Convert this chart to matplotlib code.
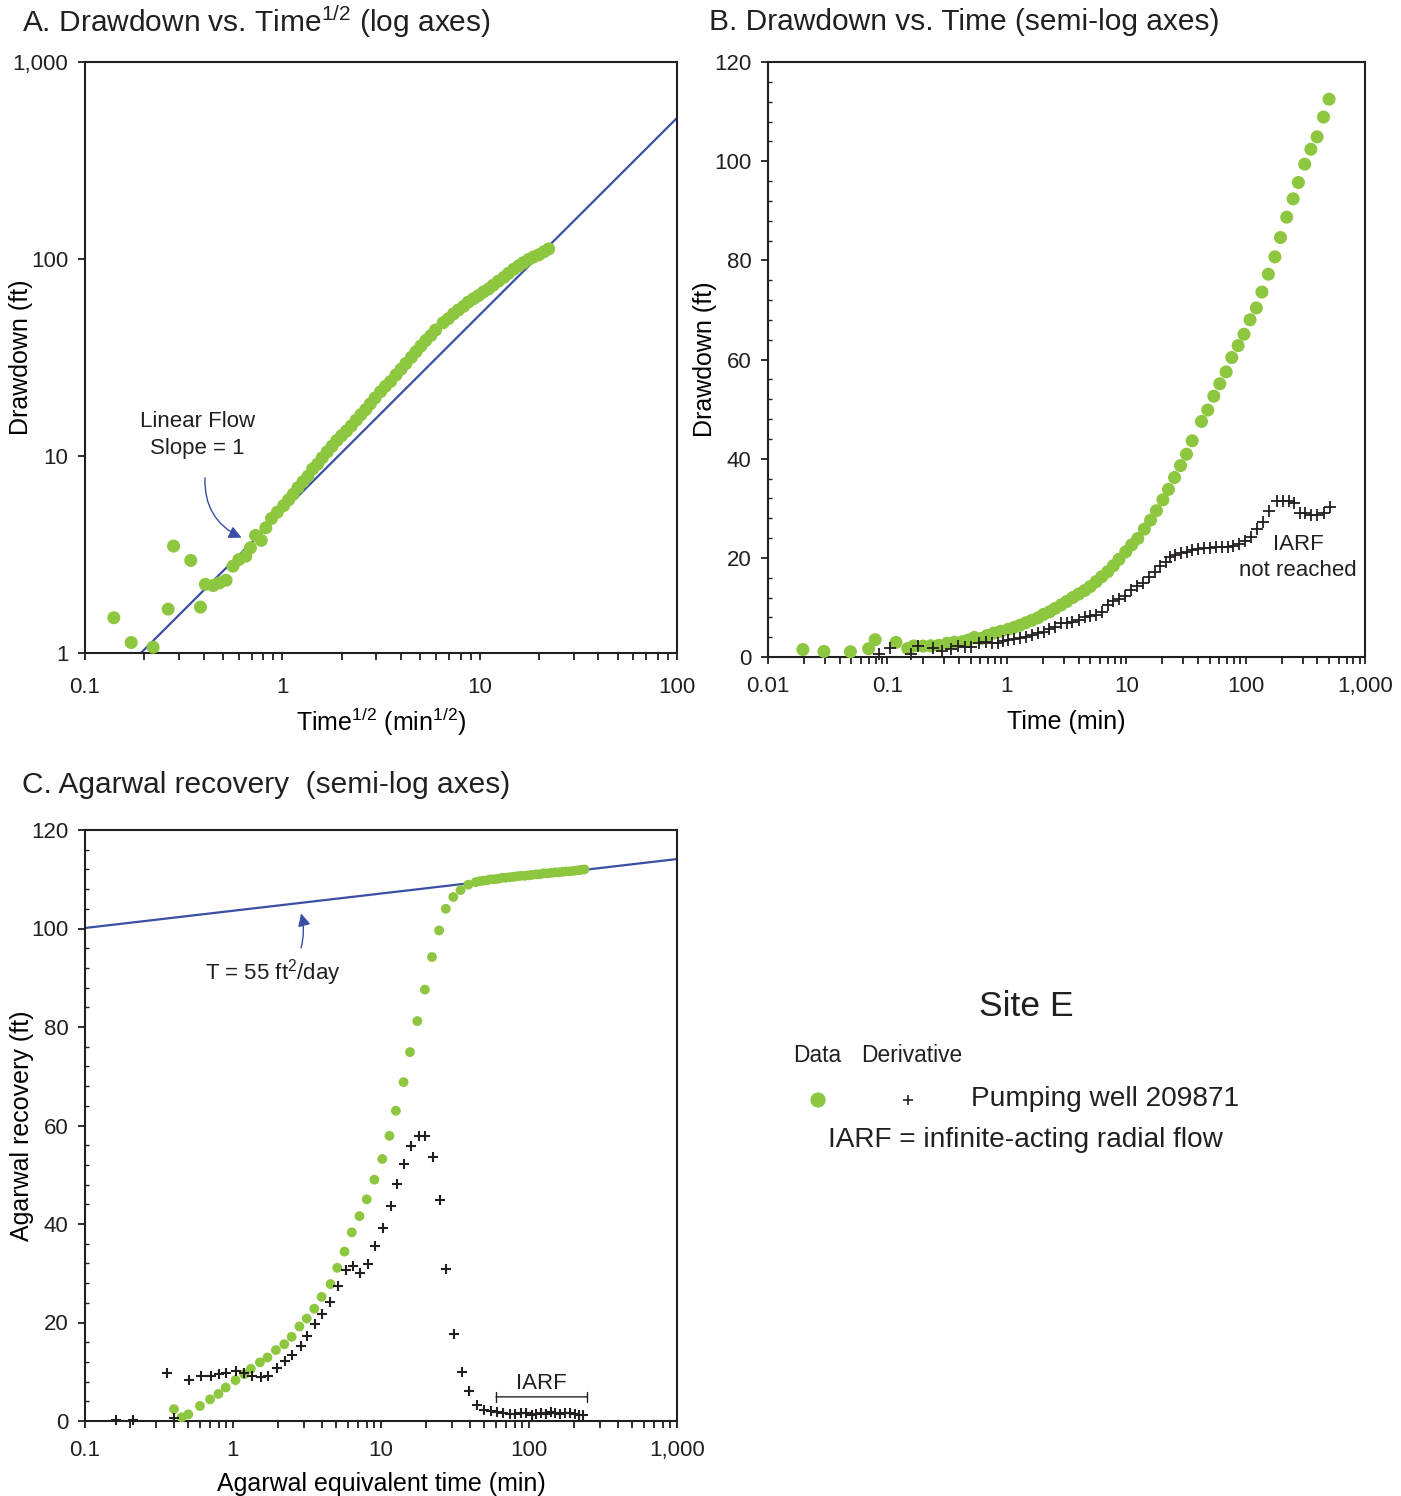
import numpy as np
import matplotlib
matplotlib.use("Agg")
import matplotlib.pyplot as plt
from matplotlib.ticker import FixedLocator, FuncFormatter, LogLocator, NullFormatter, MultipleLocator
from matplotlib.patches import FancyArrowPatch

plt.rcParams['font.family'] = ['Liberation Sans', 'DejaVu Sans']
plt.rcParams['mathtext.fontset'] = 'custom'
plt.rcParams['mathtext.rm'] = 'Liberation Sans'
plt.rcParams['mathtext.it'] = 'Liberation Sans'
plt.rcParams['text.color'] = '#231f20'

# ---------------- data ----------------
# Drawdown test (panels A and B)
time_min = [0.0196, 0.0294, 0.049, 0.0696, 0.079, 0.118, 0.148, 0.166, 0.199, 0.231,
            0.269, 0.316, 0.363, 0.426, 0.475, 0.535, 0.611, 0.68, 0.777, 0.89,
            1.03, 1.16, 1.29, 1.44, 1.62, 1.82, 2.03, 2.28, 2.54, 2.85,
            3.18, 3.57, 4.0, 4.48, 5.0, 5.6, 6.25, 7.0, 7.8, 8.7,
            9.9, 11.1, 12.5, 14.2, 16.0, 17.9, 20.3, 22.6, 25.4, 28.5,
            32.0, 35.7, 42.7, 48.2, 54.2, 60.8, 68.7, 76.6, 86.6, 97,
            109, 123, 137, 155, 176, 196, 221, 250, 277, 313,
            352, 397, 449, 500]
drawdown_ft = [1.51, 1.13, 1.07, 1.67, 3.49, 2.95, 1.71, 2.23, 2.2, 2.27,
               2.34, 2.76, 2.98, 3.1, 3.42, 3.95, 3.73, 4.32, 4.82, 5.19,
               5.6, 6.0, 6.4, 6.9, 7.4, 7.9, 8.6, 9.1, 9.8, 10.5,
               11.2, 12.0, 12.7, 13.4, 14.2, 15.2, 16.2, 17.2, 18.4, 19.7,
               21.2, 22.6, 23.9, 25.8, 27.6, 29.5, 31.7, 33.8, 36.2, 38.6,
               40.9, 43.6, 47.5, 49.8, 52.6, 55.1, 57.5, 60.4, 62.8, 65.1,
               68.0, 70.4, 73.6, 77.2, 80.7, 84.6, 88.7, 92.4, 95.7, 99.4,
               102.4, 104.9, 108.9, 112.5]

deriv_time_min = [0.085, 0.106, 0.159, 0.181, 0.241, 0.284, 0.340, 0.391, 0.445, 0.506,
                  0.586, 0.667, 0.745, 0.836, 0.925, 1.03, 1.16, 1.29, 1.44, 1.62,
                  1.82, 2.03, 2.26, 2.54, 2.83, 3.18, 3.55, 4.0, 4.5, 5.0,
                  5.6, 6.25, 7.0, 7.8, 8.7, 9.8, 11.0, 12.3, 13.7, 15.4,
                  17.3, 19.2, 21.6, 23.1, 25.7, 28.8, 32.2, 35.9, 40.3, 44.9,
                  50.4, 56.6, 63, 71, 79, 88, 99, 111, 124, 139,
                  156, 183, 205, 229, 252, 283, 315, 354, 400, 454, 510]
deriv_ft = [0.6, 1.9, 0.6, 2.3, 1.75, 1.3, 1.55, 2.2, 2.1, 2.1,
            2.8, 3.1, 2.9, 2.9, 3.3, 3.4, 3.6, 3.8, 4.1, 4.4,
            4.9, 5.1, 5.6, 6.0, 6.8, 6.9, 7.1, 7.5, 8.0, 8.3,
            8.5, 9.1, 10.5, 11.2, 11.6, 12.3, 13.5, 14.3, 15.0, 16.1,
            17.2, 18.4, 19.2, 20.1, 20.6, 21.0, 21.2, 21.6, 21.7, 21.9,
            21.9, 22.1, 22.2, 22.1, 22.4, 22.8, 23.3, 24.3, 25.8, 27.3,
            29.4, 31.5, 31.5, 31.5, 31.1, 29.1, 29.0, 28.6, 28.6, 29.0, 30.3]

# Linear-flow line (panel A), slope = 1 on log-log
linear_x = [0.192, 100.0]
linear_y = [1.0, 520.0]

# Agarwal recovery (panel C)
agarwal_time_min = [0.399, 0.45, 0.499, 0.598, 0.70, 0.797, 0.893, 1.04, 1.19, 1.32,
                    1.52, 1.71, 1.95, 2.22, 2.49, 2.81, 3.15, 3.54, 3.97, 4.56,
                    5.06, 5.67, 6.35, 7.15, 8.01, 9.02, 10.2, 11.4, 12.6, 14.2,
                    15.7, 17.6, 19.8, 22.1, 24.7, 27.4, 30.8, 34.5, 38.9,
                    43.6, 46.3, 49.1, 52.0, 55.2, 58.5, 62.0, 65.8, 69.8, 74.0,
                    78.5, 83.2, 88.3, 93.6, 99.3, 105, 112, 118, 125, 133,
                    141, 150, 159, 168, 178, 189, 200, 212, 224, 237]
agarwal_rec_ft = [2.4, 0.75, 1.35, 3.05, 4.4, 5.5, 6.8, 8.3, 9.5, 10.6,
                  11.9, 12.9, 14.4, 15.6, 17.1, 19.2, 20.8, 22.8, 25.2, 27.8,
                  31.1, 34.4, 38.3, 41.6, 45.0, 49.0, 53.2, 57.9, 63.0, 68.8,
                  74.9, 81.2, 87.6, 94.2, 99.6, 104.0, 106.4, 107.8, 108.9,
                  109.4, 109.6, 109.7, 109.8, 110.0, 110.0, 110.1, 110.3, 110.3, 110.4,
                  110.5, 110.6, 110.7, 110.7, 110.8, 110.9, 111.0, 111.0, 111.2, 111.2,
                  111.3, 111.4, 111.4, 111.5, 111.6, 111.6, 111.7, 111.8, 111.9, 112.0]

agarwal_deriv_time_min = [0.161, 0.21, 0.357, 0.401, 0.504, 0.605, 0.707, 0.804, 0.897, 1.05,
                          1.19, 1.34, 1.54, 1.73, 1.97, 2.25, 2.52, 2.87, 3.18, 3.58,
                          4.02, 4.52, 5.11, 5.76, 6.45, 7.26, 8.13, 9.16, 10.3, 11.6,
                          12.8, 14.4, 16.0, 18.0, 19.9, 22.6, 25.2, 27.6, 31.0, 35.4,
                          39.4, 44.2, 49.6, 55.2, 61.2, 66.8, 74.1, 80.9, 88.8, 95.9,
                          104, 112, 121, 131, 141, 151, 161, 174, 188, 203, 217, 231]
agarwal_deriv_ft = [0.2, 0.2, 9.8, 0.7, 8.3, 9.1, 9.1, 9.5, 9.8, 10.2,
                    9.8, 9.2, 8.9, 9.1, 10.7, 12.2, 13.4, 15.2, 17.3, 19.7,
                    21.7, 24.1, 27.4, 30.7, 31.5, 30.1, 31.9, 35.5, 39.2, 43.7,
                    48.1, 52.2, 55.9, 57.9, 57.9, 53.6, 44.8, 30.8, 17.6, 9.9,
                    6.0, 3.3, 2.3, 2.1, 1.9, 1.55, 1.4, 1.4, 1.55, 1.55,
                    1.3, 1.4, 1.55, 1.4, 1.8, 1.55, 1.4, 1.55, 1.7, 1.4, 1.3, 1.2]

# Semi-log straight line (T = 55 ft2/day)
agarwal_line_t = [0.1, 1000.0]
agarwal_line_ft = [100.1, 114.1]

GREEN = '#8dc63f'
BLUE = '#3a4fa3'
INK = '#231f20'

W, H = 1401, 1496
fig = plt.figure(figsize=(W / 100, H / 100), dpi=100)


def ax_rect(l, t, r, b):
    return [l / W, 1 - b / H, (r - l) / W, (b - t) / H]


def fmt_num(v, pos=None):
    if v >= 1000:
        return f"{int(round(v)):,}"
    if v >= 1:
        return f"{int(round(v))}"
    return f"{v:g}"


def style_axes(ax, xpad):
    for s in ax.spines.values():
        s.set_linewidth(1.5)
        s.set_color(INK)
    ax.tick_params(which='both', direction='out', length=5, width=1.3, labelsize=16,
                   colors=INK, top=False, right=False)
    ax.tick_params(axis='x', which='major', pad=xpad)
    ax.tick_params(axis='y', which='major', pad=7)


def log_x(ax, lo, hi):
    ax.set_xscale('log')
    ax.set_xlim(lo, hi)
    majors = [10.0 ** k for k in range(int(round(np.log10(lo))), int(round(np.log10(hi))) + 1)]
    ax.xaxis.set_major_locator(FixedLocator(majors))
    ax.xaxis.set_major_formatter(FuncFormatter(fmt_num))
    ax.xaxis.set_minor_locator(LogLocator(base=10, subs=np.arange(2, 10), numticks=50))
    ax.xaxis.set_minor_formatter(NullFormatter())


def lin_y(ax):
    ax.set_ylim(0, 120)
    ax.yaxis.set_major_locator(MultipleLocator(20))
    ax.yaxis.set_minor_locator(MultipleLocator(4))
    ax.tick_params(axis='y', which='minor', direction='in', length=3, width=1.0)


# ---------------- Panel A ----------------
axA = fig.add_axes(ax_rect(85, 62, 677, 653))
style_axes(axA, 12)
sqrt_t = np.sqrt(np.array(time_min))
axA.scatter(sqrt_t, drawdown_ft, s=88, color=GREEN, edgecolors='none', zorder=3, clip_on=False)
axA.plot(linear_x, linear_y, color=BLUE, lw=1.6, zorder=2)
log_x(axA, 0.1, 100)
axA.set_yscale('log')
axA.set_ylim(1, 1000)
axA.yaxis.set_major_locator(FixedLocator([1, 10, 100, 1000]))
axA.yaxis.set_major_formatter(FuncFormatter(fmt_num))
axA.yaxis.set_minor_locator(FixedLocator([]))
axA.set_xlabel('Time$^{1/2}$ (min$^{1/2}$)', fontsize=18, labelpad=6)
axA.set_ylabel('Drawdown (ft)', fontsize=18)
axA.yaxis.set_label_coords((33 - 85) / 592, 0.5)
axA.text(0.371, 12.8, 'Linear Flow\nSlope = 1', ha='center', va='center', fontsize=16,
         linespacing=1.35)
axA.add_patch(FancyArrowPatch((0.406, 8.0), (0.64, 3.8), connectionstyle='arc3,rad=0.35',
                              arrowstyle='-|>,head_length=5,head_width=2.5', color=BLUE,
                              lw=1.0, mutation_scale=1.5, zorder=4))
fig.text(22 / W, 1 - 22 / H, 'A. Drawdown vs. Time$^{1/2}$ (log axes)', fontsize=21.5,
         ha='left', va='center')

# ---------------- Panel B ----------------
axB = fig.add_axes(ax_rect(768, 62, 1365, 657))
style_axes(axB, 9)
axB.scatter(time_min, drawdown_ft, s=88, color=GREEN, edgecolors='none', zorder=3, clip_on=False)
axB.scatter(deriv_time_min, deriv_ft, s=70, marker='+', color=INK, linewidths=1.3, zorder=4,
            clip_on=False)
log_x(axB, 0.01, 1000)
lin_y(axB)
axB.set_xlabel('Time (min)', fontsize=18, labelpad=9)
axB.set_ylabel('Drawdown (ft)', fontsize=18)
axB.yaxis.set_label_coords((717 - 768) / 597, 0.5)
axB.text(275, 20, 'IARF\nnot reached', ha='center', va='center', fontsize=16, linespacing=1.3)
fig.text(709 / W, 1 - 22 / H, 'B. Drawdown vs. Time (semi-log axes)', fontsize=21.5,
         ha='left', va='center')

# ---------------- Panel C ----------------
axC = fig.add_axes(ax_rect(85, 830, 677, 1421))
style_axes(axC, 9)
axC.plot(agarwal_line_t, agarwal_line_ft, color=BLUE, lw=1.6, zorder=2)
axC.scatter(agarwal_time_min, agarwal_rec_ft, s=50, color=GREEN, edgecolors='none', zorder=3,
            clip_on=False)
axC.scatter(agarwal_deriv_time_min, agarwal_deriv_ft, s=42, marker='+', color=INK,
            linewidths=1.5, zorder=4, clip_on=False)
log_x(axC, 0.1, 1000)
lin_y(axC)
axC.set_xlabel('Agarwal equivalent time (min)', fontsize=18, labelpad=7.5)
axC.set_ylabel('Agarwal recovery (ft)', fontsize=18)
axC.yaxis.set_label_coords((34 - 85) / 592, 0.5)
axC.text(1.86, 91, 'T = 55 ft$^{2}$/day', ha='center', va='center', fontsize=16)
axC.add_patch(FancyArrowPatch((2.85, 95.5), (2.85, 103.6), connectionstyle='arc3,rad=0.15',
                              arrowstyle='-|>,head_length=5,head_width=2.5', color=BLUE,
                              lw=1.0, mutation_scale=1.5, zorder=4))
# IARF bracket
axC.annotate('', xy=(59.8, 4.9), xytext=(247, 4.9),
             arrowprops=dict(arrowstyle='|-|,widthA=0.35,widthB=0.35', color=INK, lw=1.0,
                             shrinkA=0, shrinkB=0))
axC.text(121, 7.6, 'IARF', ha='center', va='center', fontsize=16)
fig.text(22 / W, 1 - 785 / H, 'C. Agarwal recovery  (semi-log axes)', fontsize=21.5,
         ha='left', va='center')

# ---------------- Legend block ----------------
fig.text(1026 / W, 1 - 1007 / H, 'Site E', fontsize=25.5, ha='center', va='center')
fig.text(817 / W, 1 - 1056 / H, 'Data', fontsize=16.4, ha='center', va='center')
fig.text(912 / W, 1 - 1056 / H, 'Derivative', fontsize=16.4, ha='center', va='center')
legax = fig.add_axes([0, 0, 1, 1], facecolor='none')
legax.set_xlim(0, W)
legax.set_ylim(H, 0)
legax.axis('off')
legax.scatter([818], [1100], s=120, color=GREEN, edgecolors='none')
legax.scatter([908], [1100], s=45, marker='+', color=INK, linewidths=1.2)
fig.text(1105 / W, 1 - 1099 / H, 'Pumping well 209871', fontsize=20.2, ha='center', va='center')
fig.text(1025 / W, 1 - 1140 / H, 'IARF = infinite-acting radial flow', fontsize=20.2,
         ha='center', va='center')

fig.savefig('out.png', dpi=100)
